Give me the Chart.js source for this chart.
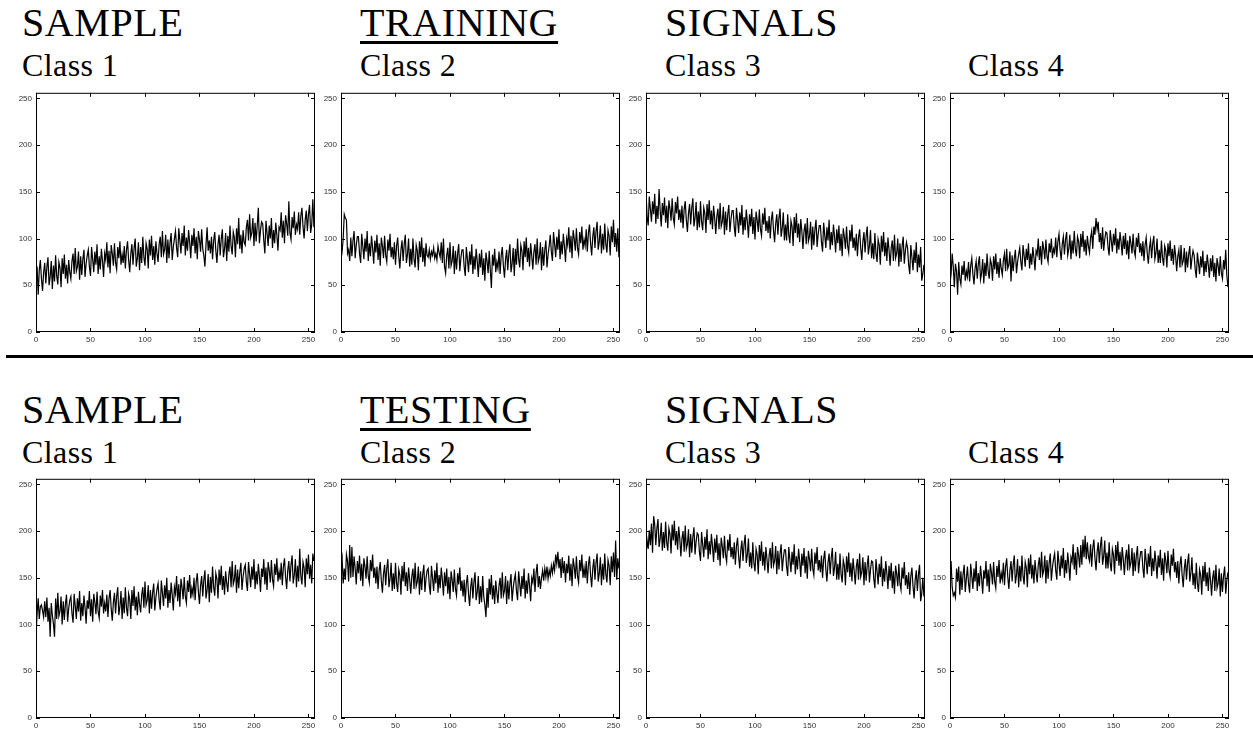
<!DOCTYPE html>
<html>
<head>
<meta charset="utf-8">
<script src="https://cdn.jsdelivr.net/npm/chart.js@4.4.1/dist/chart.umd.min.js"></script>
<style>
  body { margin: 0; width: 1253px; height: 740px; background: #fff; position: relative; overflow: hidden; }
  .t { position: absolute; font-family: "Liberation Serif", serif; color: #000; line-height: 1; white-space: nowrap; }
  .big { font-size: 40px; letter-spacing: 0.6px; }
  .cls { font-size: 32px; letter-spacing: 0.4px; }
  .ul { text-decoration: underline; text-decoration-thickness: 3px; text-underline-offset: 5px; }
  .rule { position: absolute; left: 6px; top: 355px; width: 1247px; height: 3px; background: #000; }
  .panel { position: absolute; }
</style>
</head>
<body>
<div class="rule"></div>
<script>
// tick labels (both axes run 0..256)
const xTicks = [0, 50, 100, 150, 200, 250];
const yTicks = [0, 50, 100, 150, 200, 250];

const rowTitles = [['SAMPLE', 'TRAINING', 'SIGNALS'], ['SAMPLE', 'TESTING', 'SIGNALS']];
const classLabels = ['Class 1', 'Class 2', 'Class 3', 'Class 4'];

// training signals, one value per sample index 0..255
const trainClass1 = [
58,70,40,66,77,57,44,64,74,52,70,80,50,59,76,46,
71,54,82,60,51,75,69,48,79,62,83,57,72,52,77,64,
57,76,84,62,90,65,70,86,56,81,61,78,88,59,73,82,
88,70,60,91,78,64,86,72,94,62,81,67,89,76,59,84,
77,96,69,87,63,93,84,71,95,74,67,91,79,97,72,83,
74,92,68,88,97,77,64,84,94,72,90,100,70,79,96,66,
91,74,102,80,71,95,89,68,99,82,103,77,92,72,97,84,
75,94,102,80,108,83,88,104,74,99,79,96,106,77,91,100,
108,90,80,111,98,84,106,92,114,82,101,87,109,96,79,104,
92,111,84,102,78,108,99,86,110,89,82,70,94,112,87,98,
84,102,78,98,107,87,74,94,104,82,100,110,80,89,106,76,
103,86,114,92,83,107,101,80,111,94,122,89,104,84,109,96,
93,112,120,98,126,101,106,122,92,117,97,114,133,95,109,118,
116,98,84,119,106,92,114,100,122,90,109,95,117,104,87,112,
109,128,101,119,95,125,116,103,140,106,99,123,111,129,104,115,
110,128,104,124,133,113,100,120,130,108,126,136,106,115,142,112];

const trainClass2 = [
92,86,100,126,122,120,84,88,76,101,81,98,108,79,93,102,
102,84,74,105,92,78,100,86,108,76,95,81,103,90,73,98,
85,104,77,95,71,101,92,79,103,82,75,99,87,105,80,91,
78,96,72,92,101,81,68,88,98,76,94,104,74,83,100,70,
89,72,100,78,69,93,87,66,97,80,101,75,90,70,95,82,
80,88,78,86,82,90,79,84,77,92,85,80,96,74,100,70,
63,82,90,68,96,71,76,92,62,87,67,84,94,65,79,88,
88,70,60,91,78,64,86,72,94,62,81,67,89,76,59,84,
69,88,61,79,55,85,76,63,87,66,47,83,71,89,64,75,
68,86,62,82,91,71,58,78,88,66,84,94,64,73,90,60,
89,72,100,78,69,93,87,66,97,80,101,75,90,70,95,82,
67,86,94,72,100,75,80,96,66,91,71,88,98,69,83,92,
104,86,76,107,94,80,102,88,110,78,97,83,105,92,75,100,
93,112,85,103,79,109,100,87,111,90,83,107,95,113,88,99,
92,110,86,106,115,95,82,102,112,90,108,118,88,97,114,84,
105,88,116,94,85,109,103,82,113,96,120,91,106,86,111,80];

const trainClass3 = [
150,124,114,145,132,118,140,126,148,116,135,121,153,130,113,138,
125,144,117,135,111,141,132,119,143,122,115,139,127,145,120,131,
117,135,111,131,140,120,107,127,137,115,133,143,113,122,139,109,
129,112,140,118,109,133,127,106,137,120,141,115,130,110,135,122,
105,124,132,110,138,113,118,134,104,129,109,126,136,107,121,130,
130,112,102,133,120,106,128,114,136,104,123,109,131,118,101,126,
113,132,105,123,99,129,120,107,131,110,103,127,115,133,108,119,
106,124,100,120,129,109,96,116,126,104,122,132,102,111,128,98,
115,98,126,104,95,119,113,92,123,106,127,101,116,96,121,108,
89,108,116,94,122,97,102,118,88,113,93,110,120,91,105,114,
114,96,86,117,104,90,112,98,120,88,107,93,115,102,85,110,
95,114,87,105,81,111,102,89,113,92,85,109,97,115,90,101,
87,105,81,101,110,90,77,97,107,85,103,113,83,92,109,79,
95,78,106,84,75,99,93,72,103,86,107,81,96,76,101,88,
71,90,98,76,104,79,84,100,70,95,75,92,102,73,87,96,
90,72,62,93,80,66,88,74,96,64,83,69,91,55,62,72];

const trainClass4 = [
52,62,84,70,48,73,65,40,75,57,51,71,61,76,55,65,
59,75,54,71,79,62,51,68,76,57,73,81,56,63,78,52,
74,60,84,65,57,78,73,55,81,67,84,62,75,58,79,68,
61,77,84,65,89,68,72,86,54,82,65,79,88,63,75,83,
90,75,66,93,82,70,89,77,95,68,84,72,91,80,66,87,
83,100,77,92,72,97,89,78,99,81,75,95,85,100,79,89,
85,101,80,97,105,88,77,94,102,83,99,107,82,89,104,78,
98,84,108,89,81,102,97,79,105,91,108,86,99,82,103,92,
85,101,108,89,113,104,122,110,118,96,106,89,112,87,99,107,
106,91,82,109,98,86,105,93,111,84,100,88,107,96,82,103,
89,106,83,98,78,103,95,84,105,87,81,101,91,106,85,95,
81,97,76,93,101,84,73,90,98,79,95,103,78,85,100,74,
88,74,98,79,71,92,87,69,95,81,98,76,89,72,93,82,
65,81,88,69,93,72,76,90,64,86,69,83,92,67,79,87,
82,67,58,85,74,62,81,69,87,60,76,64,83,72,58,79,
65,82,59,74,54,79,71,60,81,63,57,77,67,88,61,48];

// testing signals
const testClass1 = [
88,112,128,106,119,121,115,108,125,108,129,103,118,87,123,110,
101,87,128,106,134,109,114,130,100,125,105,122,132,103,117,126,
130,112,102,133,120,106,128,114,136,104,123,109,131,118,101,126,
117,136,109,127,103,133,124,111,135,114,107,131,119,137,112,123,
114,132,108,128,137,117,104,124,134,112,130,140,110,119,136,106,
129,112,140,118,109,133,127,106,137,120,141,115,130,110,135,122,
113,132,140,118,146,121,126,142,112,137,117,134,144,115,129,138,
144,126,116,147,134,120,142,128,150,118,137,123,145,132,115,140,
133,152,125,143,119,149,140,127,151,130,123,147,135,153,128,139,
132,150,126,146,155,135,122,142,152,130,148,158,128,137,154,124,
151,134,162,140,131,155,149,128,159,142,163,137,152,132,157,144,
135,154,162,140,168,143,148,164,134,159,139,156,166,137,151,160,
164,146,136,167,154,140,162,148,170,138,157,143,165,152,135,160,
151,170,143,161,137,167,158,145,169,148,141,165,153,171,146,157,
148,166,142,162,171,151,138,158,168,146,164,174,144,153,170,140,
163,146,181,152,143,167,161,140,171,154,175,149,164,144,176,168];

const testClass2 = [
165,172,144,160,148,175,168,146,185,150,183,151,173,160,143,168,
155,174,147,165,141,171,162,149,173,152,145,169,157,175,150,161,
144,162,138,158,167,147,134,154,164,142,160,170,140,149,166,136,
155,138,166,144,135,159,153,132,163,146,167,141,156,136,161,148,
133,152,160,138,166,141,146,162,132,157,137,154,164,135,149,158,
160,142,132,163,150,136,158,144,166,134,153,139,161,148,131,156,
141,160,133,151,127,157,148,135,159,138,131,155,143,161,136,147,
130,148,124,144,153,133,120,140,150,128,146,156,126,135,152,122,
141,124,152,130,121,108,139,118,149,132,153,127,142,122,147,134,
123,142,150,128,156,131,136,152,122,147,127,144,154,125,139,148,
154,136,126,157,144,130,152,138,160,128,147,133,155,142,125,150,
145,160,135,155,165,140,152,138,150,158,147,160,151,162,149,158,
152,163,155,165,158,175,165,178,160,170,150,172,155,168,145,165,
155,174,147,165,141,171,162,149,173,152,145,169,157,175,150,161,
150,168,144,164,173,153,140,160,170,148,166,176,146,155,172,142,
165,148,176,154,145,169,163,142,173,156,177,151,190,148,171,160];

const testClass3 = [
175,190,181,201,185,208,177,216,207,185,203,213,183,192,209,179,
199,182,210,188,179,203,197,176,207,190,211,185,200,180,205,192,
173,192,200,178,206,181,186,202,172,197,177,194,204,175,189,198,
196,178,168,199,186,172,194,180,202,170,189,175,197,184,167,192,
177,196,169,187,163,193,184,171,195,174,167,191,179,197,172,183,
170,188,164,184,193,173,160,180,190,168,186,196,166,175,192,162,
177,160,188,166,157,181,175,154,185,168,189,163,178,158,183,170,
155,174,182,160,188,163,168,184,154,179,159,176,186,157,171,180,
180,162,152,183,170,156,178,164,186,154,173,159,181,168,151,176,
163,182,155,173,149,179,170,157,181,160,153,177,165,183,158,169,
156,174,150,170,179,159,146,166,176,154,172,182,152,161,178,148,
165,148,176,154,145,169,163,142,173,156,177,151,166,146,171,158,
143,162,170,148,176,151,156,172,142,167,147,164,174,145,159,168,
167,149,139,170,157,143,165,151,173,141,160,146,168,155,138,163,
147,166,139,157,133,163,154,141,165,144,137,161,149,167,142,153,
138,156,132,152,161,141,128,148,158,136,154,164,125,133,150,130];

const testClass4 = [
160,168,140,131,134,129,160,146,162,132,157,137,154,164,135,149,
162,144,134,165,152,138,160,146,168,136,155,141,163,150,133,158,
149,168,141,159,135,165,156,143,167,146,139,163,151,169,144,155,
148,166,142,162,171,151,138,158,168,146,164,174,144,153,170,140,
163,146,174,152,143,167,161,140,171,154,175,149,164,144,169,156,
145,164,172,150,178,153,158,174,144,169,149,166,176,147,161,170,
176,158,148,179,166,152,174,160,182,150,169,155,177,164,147,172,
167,186,159,177,153,183,174,161,185,164,191,172,195,170,188,173,
168,186,162,182,191,171,158,178,188,166,184,194,164,173,190,160,
177,160,188,166,157,181,175,154,185,168,189,163,178,158,183,170,
153,172,180,158,186,161,166,182,152,177,157,174,184,155,169,178,
178,160,150,181,168,154,176,162,184,152,171,157,179,166,149,174,
161,180,153,171,147,177,168,155,179,158,151,175,163,181,156,167,
150,168,144,164,173,153,140,160,170,148,166,176,146,155,172,142,
155,138,166,144,135,159,153,132,163,146,167,141,156,136,161,148,
131,150,158,136,164,139,144,160,130,155,135,152,162,133,147,156];

const rowSeries = [
    [trainClass1, trainClass2, trainClass3, trainClass4],
    [testClass1, testClass2, testClass3, testClass4]
];

// page layout (px)
const plotLefts = [36, 341, 646, 950];
const plotTops = [92, 478];
const plotW = 279, plotH = 240;
const padL = 30, padT = 8, padR = 8, padB = 16;
const titleTops = [3, 390];
const classTops = [49, 436];
const titleLefts = [22, 360, 665];
const classLefts = [22, 360, 665, 968];

// gnuplot-like frame with inward ticks on all four sides
const frameTicks = {
    id: 'frameTicks',
    afterDraw(chart) {
        const { ctx, chartArea: a, scales: { x, y } } = chart;
        ctx.save();
        ctx.strokeStyle = '#000';
        ctx.lineWidth = 1;
        ctx.strokeRect(a.left + 0.5, a.top + 0.5, a.right - a.left - 1, a.bottom - a.top - 1);
        ctx.beginPath();
        x.ticks.forEach(t => {
            const px = Math.round(x.getPixelForValue(t.value)) + 0.5;
            ctx.moveTo(px, a.bottom); ctx.lineTo(px, a.bottom - 4);
            ctx.moveTo(px, a.top); ctx.lineTo(px, a.top + 4);
        });
        y.ticks.forEach(t => {
            const py = Math.round(y.getPixelForValue(t.value)) + 0.5;
            ctx.moveTo(a.left, py); ctx.lineTo(a.left + 4, py);
            ctx.moveTo(a.right, py); ctx.lineTo(a.right - 4, py);
        });
        ctx.stroke();
        ctx.restore();
    }
};

function addText(txt, cls, left, top) {
    const d = document.createElement('div');
    d.className = 't ' + cls;
    d.textContent = txt;
    d.style.left = left + 'px';
    d.style.top = top + 'px';
    document.body.appendChild(d);
}

function makePanel(series, left, top) {
    const cv = document.createElement('canvas');
    cv.className = 'panel';
    cv.width = plotW + padL + padR;
    cv.height = plotH + padT + padB;
    cv.style.left = (left - padL) + 'px';
    cv.style.top = (top - padT) + 'px';
    document.body.appendChild(cv);

    const tickFont = { family: '"Liberation Sans", Arial, sans-serif', size: 8 };
    new Chart(cv, {
        type: 'line',
        data: {
            datasets: [{
                data: series.map((v, i) => ({ x: i, y: v })),
                borderColor: '#000',
                borderWidth: 1.2,
                pointRadius: 0,
                tension: 0,
                fill: false
            }]
        },
        options: {
            responsive: false,
            animation: false,
            events: [],
            layout: { padding: { top: padT, right: padR, left: 0, bottom: 0 } },
            plugins: { legend: { display: false }, tooltip: { enabled: false } },
            scales: {
                x: {
                    type: 'linear', min: 0, max: 256,
                    afterBuildTicks: ax => { ax.ticks = xTicks.map(v => ({ value: v })); },
                    afterFit: ax => { ax.height = padB; },
                    grid: { display: false, drawTicks: false },
                    border: { display: false },
                    ticks: { font: tickFont, color: '#333', padding: 3, maxRotation: 0, autoSkip: false }
                },
                y: {
                    type: 'linear', min: 0, max: 256,
                    afterBuildTicks: ax => { ax.ticks = yTicks.map(v => ({ value: v })); },
                    afterFit: ax => { ax.width = padL; },
                    grid: { display: false, drawTicks: false },
                    border: { display: false },
                    ticks: { font: tickFont, color: '#333', padding: 4, autoSkip: false }
                }
            }
        },
        plugins: [frameTicks]
    });
}

rowTitles.forEach((titles, r) => {
    titles.forEach((t, i) => addText(t, i === 1 ? 'big ul' : 'big', titleLefts[i], titleTops[r]));
    classLabels.forEach((c, i) => addText(c, 'cls', classLefts[i], classTops[r]));
    rowSeries[r].forEach((s, i) => makePanel(s, plotLefts[i], plotTops[r]));
});
</script>
</body>
</html>
